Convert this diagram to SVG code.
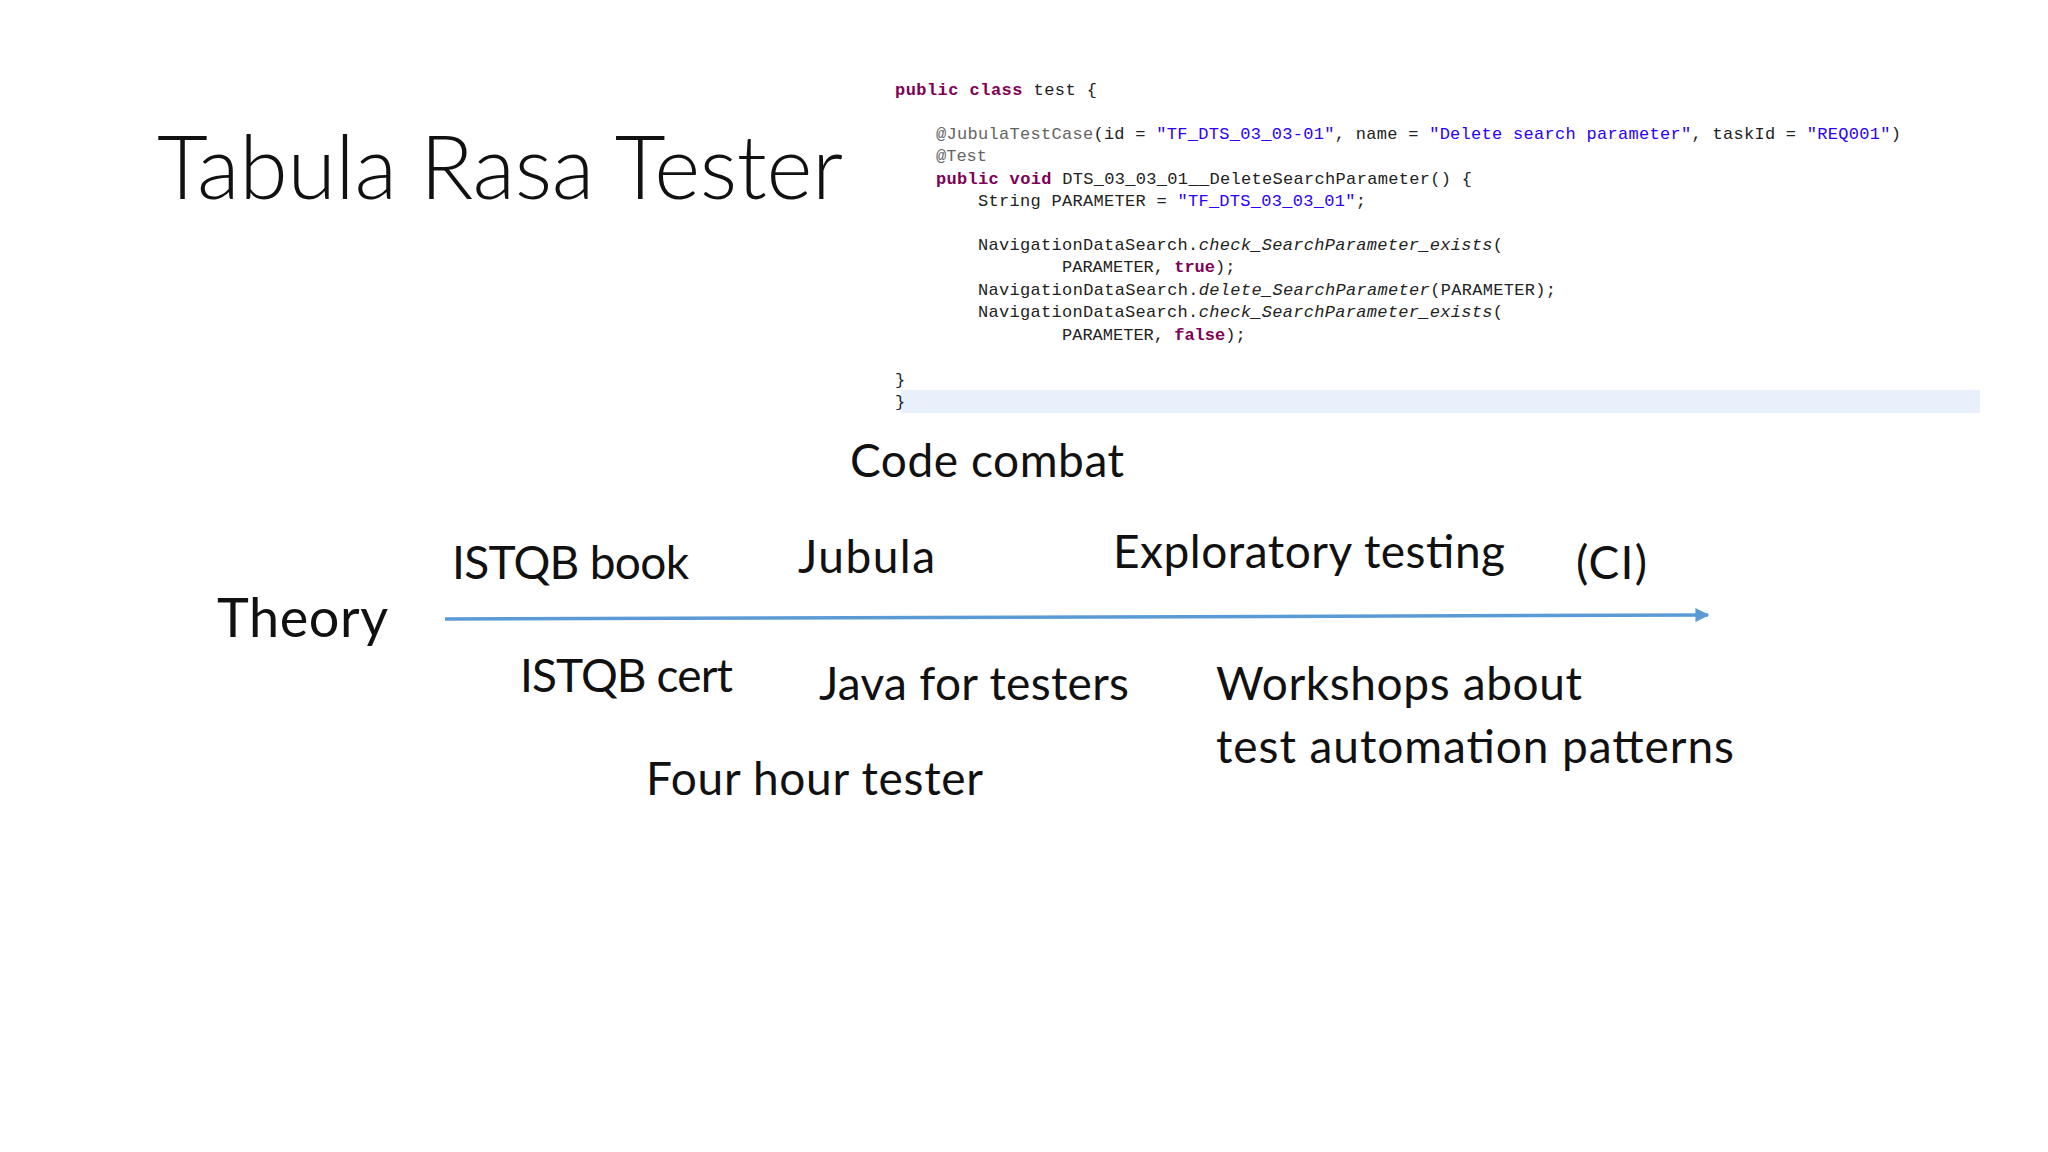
<svg xmlns="http://www.w3.org/2000/svg" width="2048" height="1152" viewBox="0 0 2048 1152">
<defs>
<style>
.t{font-family:Lato,"Open Sans",sans-serif;fill:#111}
.c{font-family:"Liberation Mono",monospace;font-size:17px;fill:#222}
.k{fill:#7f0055;font-weight:bold}
.s{fill:#2a00ff}
.a{fill:#646464}
</style>
<marker id="ah" viewBox="0 0 10 10" refX="9" refY="5" markerWidth="4" markerHeight="4" orient="auto"><path d="M0,0L10,5L0,10z" fill="#5b9bd5"/></marker>
</defs>
<rect width="2048" height="1152" fill="#fff"/>
<text class="t" x="157" y="199" font-size="88" font-weight="300" textLength="686">Tabula Rasa Tester</text>
<g id="code">
<rect x="901" y="390" width="1079" height="23" fill="#e8f0fb"/>
<text class="c" x="895" y="95" textLength="202"><tspan class="k">public class</tspan> test {</text>
<text class="c" x="936" y="139" textLength="965"><tspan class="a">@JubulaTestCase</tspan>(id = <tspan class="s">"TF_DTS_03_03-01"</tspan>, name = <tspan class="s">"Delete search parameter"</tspan>, taskId = <tspan class="s">"REQ001"</tspan>)</text>
<text class="c a" x="936" y="161">@Test</text>
<text class="c" x="936" y="184" textLength="536"><tspan class="k">public void</tspan> DTS_03_03_01__DeleteSearchParameter() {</text>
<text class="c" x="978" y="206" textLength="388">String PARAMETER = <tspan class="s">"TF_DTS_03_03_01"</tspan>;</text>
<text class="c" x="978" y="250" textLength="525">NavigationDataSearch.<tspan font-style="italic">check_SearchParameter_exists</tspan>(</text>
<text class="c" x="1062" y="272"> PARAMETER, <tspan class="k">true</tspan>);</text>
<text class="c" x="978" y="295" textLength="578">NavigationDataSearch.<tspan font-style="italic">delete_SearchParameter</tspan>(PARAMETER);</text>
<text class="c" x="978" y="317" textLength="525">NavigationDataSearch.<tspan font-style="italic">check_SearchParameter_exists</tspan>(</text>
<text class="c" x="1062" y="340"> PARAMETER, <tspan class="k">false</tspan>);</text>
<text class="c" x="895" y="385">}</text>
<text class="c" x="895" y="407">}</text>
</g>
<g id="connectors">
<line x1="445" y1="619" x2="1708" y2="615" stroke="#5b9bd5" stroke-width="3.5" marker-end="url(#ah)"/>
</g>
<g id="labels" class="t" font-size="46">
<text x="850" y="477" textLength="274">Code combat</text>
<text x="217" y="637" font-size="54" textLength="171">Theory</text>
<text x="452" y="579" textLength="237">ISTQB book</text>
<text x="798" y="573" textLength="137">Jubula</text>
<text x="1113" y="568" textLength="392">Exploratory testing</text>
<text x="1576" y="579" textLength="71">(CI)</text>
<text x="520" y="692" textLength="213">ISTQB cert</text>
<text x="819" y="700" textLength="310">Java for testers</text>
<text x="1216" y="700" textLength="366">Workshops about</text>
<text x="1216" y="763" textLength="518">test automation patterns</text>
<text x="646" y="795" textLength="337">Four hour tester</text>
</g>
</svg>
